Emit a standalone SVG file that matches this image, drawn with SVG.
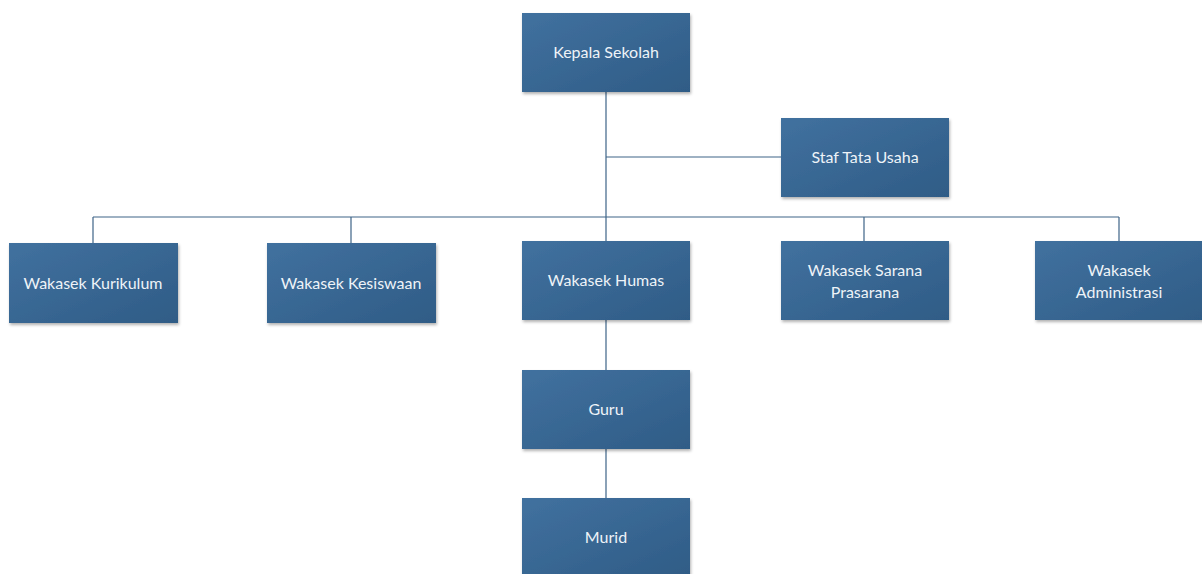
<svg xmlns="http://www.w3.org/2000/svg" width="1202" height="574" viewBox="0 0 1202 574">
<style>
.box{fill:url(#g);filter:url(#sh);}
.t{font-family:Lato,"Liberation Sans",sans-serif;font-size:16px;fill:#eef3f8;text-anchor:middle;}
.c{stroke:#3e6488;stroke-width:1.2;fill:none;}
</style>
<defs>
<linearGradient id="g" x1="0" y1="0" x2="1" y2="1">
<stop offset="0" stop-color="#41719f"/>
<stop offset="1" stop-color="#2f5c86"/>
</linearGradient>
<filter id="sh" x="-5%" y="-5%" width="112%" height="115%">
<feDropShadow dx="1" dy="2" stdDeviation="1.5" flood-color="#000" flood-opacity="0.3"/>
</filter>
</defs>
<rect width="1202" height="574" fill="#fff"/>
<g id="connectors">
<path class="c" d="M606 92V241M606 157H781M93 217H1119M93 217V243M351 217V243M864 217V241M1119 217V241M606 320V370M606 449V498"/>
</g>
<g id="kepala"><rect class="box" x="522" y="13" width="168" height="79"/><text class="t" x="606" y="58">Kepala Sekolah</text></g>
<g id="staf"><rect class="box" x="781" y="118" width="168" height="79"/><text class="t" x="865" y="163">Staf Tata Usaha</text></g>
<g id="kurikulum"><rect class="box" x="9" y="243" width="169" height="80"/><text class="t" x="93" y="289">Wakasek Kurikulum</text></g>
<g id="kesiswaan"><rect class="box" x="267" y="243" width="169" height="80"/><text class="t" x="351" y="289">Wakasek Kesiswaan</text></g>
<g id="humas"><rect class="box" x="522" y="241" width="168" height="79"/><text class="t" x="606" y="286">Wakasek Humas</text></g>
<g id="sarana"><rect class="box" x="781" y="241" width="168" height="79"/><text class="t" x="865" y="276">Wakasek Sarana</text><text class="t" x="865" y="298">Prasarana</text></g>
<g id="administrasi"><rect class="box" x="1035" y="241" width="168" height="79"/><text class="t" x="1119" y="276">Wakasek</text><text class="t" x="1119" y="298">Administrasi</text></g>
<g id="guru"><rect class="box" x="522" y="370" width="168" height="79"/><text class="t" x="606" y="415">Guru</text></g>
<g id="murid"><rect class="box" x="522" y="498" width="168" height="79"/><text class="t" x="606" y="543">Murid</text></g>
</svg>
